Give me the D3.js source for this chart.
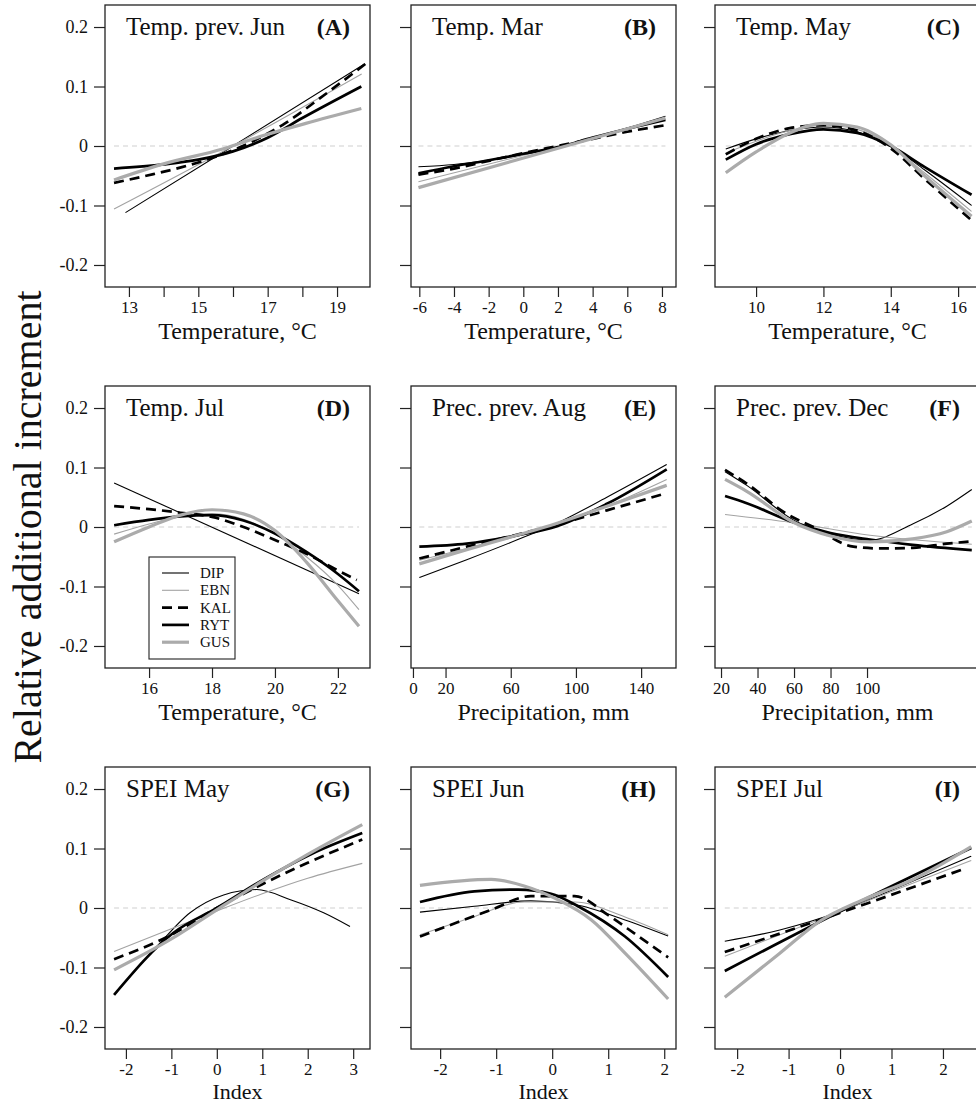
<!DOCTYPE html>
<html><head><meta charset="utf-8">
<script src="https://cdn.jsdelivr.net/npm/d3@7"></script>
<style>
body{margin:0;background:#fff}
svg{display:block}
text{font-family:"Liberation Serif","Times New Roman",Times,serif;fill:#111}
</style>
</head><body>
<svg id="c" width="976" height="1104"></svg>
<script>
// ---------------- data ----------------
const seriesNames = ["DIP", "EBN", "KAL", "RYT", "GUS"];
const panelTitles = ["Temp. prev. Jun", "Temp. Mar", "Temp. May", "Temp. Jul", "Prec. prev. Aug", "Prec. prev. Dec", "SPEI May", "SPEI Jun", "SPEI Jul"];
const panelLetters = ["(A)", "(B)", "(C)", "(D)", "(E)", "(F)", "(G)", "(H)", "(I)"];
const xTitles = ["Temperature, °C", "Temperature, °C", "Temperature, °C", "Temperature, °C", "Precipitation, mm", "Precipitation, mm", "Index", "Index", "Index"];
const xDomains = [[12.31, 19.95], [-6.48, 8.81], [8.78, 16.65], [14.6, 23.02], [-1.2, 161.4], [16.7, 161.9], [-2.46, 3.37], [-2.52, 2.21], [-2.43, 2.72]];
const xTickValues = [[13, 14, 15, 16, 17, 18, 19], [-6, -4, -2, 0, 2, 4, 6, 8], [10, 12, 14, 16], [16, 18, 20, 22], [0, 20, 60, 100, 140], [20, 40, 60, 80, 100], [-2, -1, 0, 1, 2, 3], [-2, -1, 0, 1, 2], [-2, -1, 0, 1, 2]];
const xTickLabels = [[13, 15, 17, 19], [-6, -4, -2, 0, 2, 4, 6, 8], [10, 12, 14, 16], [16, 18, 20, 22], [0, 20, 60, 100, 140], [20, 40, 60, 80, 100], [-2, -1, 0, 1, 2, 3], [-2, -1, 0, 1, 2], [-2, -1, 0, 1, 2]];
const yTickValues = [-0.2, -0.1, 0, 0.1, 0.2];
const yDomain = [-0.237, 0.237];

// series order: DIP, EBN, KAL, RYT, GUS ; points are [x, relative additional increment]
const panelA = [
  [[12.9, -0.112], [16, 0.0], [19.8, 0.138]],
  [[12.57, -0.106], [16, 0.0], [19.71, 0.121]],
  [[12.57, -0.062], [13.5, -0.05], [14.5, -0.036], [15.5, -0.018], [16.5, 0.006], [17.5, 0.038], [18.5, 0.08], [19.84, 0.139]],
  [[12.57, -0.038], [14, -0.031], [15, -0.023], [16, -0.009], [17, 0.014], [18, 0.047], [19.7, 0.1]],
  [[12.57, -0.057], [14, -0.03], [15.7, -0.005], [16.9, 0.018], [18.1, 0.038], [19.7, 0.063]]
];
const panelB = [
  [[-6.05, -0.035], [-4, -0.031], [-2, -0.024], [0, -0.014], [2, -0.003], [4, 0.013], [6, 0.03], [8.2, 0.05]],
  [[-6.05, -0.06], [8.2, 0.044]],
  [[-6.05, -0.048], [-4, -0.038], [-2, -0.025], [0, -0.012], [2, 0.0], [4, 0.012], [6, 0.024], [8.2, 0.035]],
  [[-6.05, -0.046], [-4, -0.034], [-2, -0.024], [0, -0.013], [2, -0.002], [4, 0.014], [6, 0.029], [8.2, 0.044]],
  [[-6.05, -0.07], [8.2, 0.047]]
];
const panelC = [
  [[9.1, -0.005], [10, 0.012], [11, 0.026], [12, 0.032], [13, 0.024], [14, 0.0], [15, -0.04], [16.4, -0.1]],
  [[9.1, -0.012], [10, 0.008], [11, 0.026], [12, 0.035], [13, 0.028], [14, 0.0], [15, -0.045], [16.4, -0.11]],
  [[9.1, -0.014], [10, 0.012], [11, 0.03], [12, 0.035], [13, 0.026], [14, -0.004], [15, -0.055], [16.4, -0.125]],
  [[9.1, -0.023], [10, 0.003], [11, 0.02], [12, 0.028], [13, 0.022], [14, 0.0], [15, -0.035], [16.4, -0.082]],
  [[9.1, -0.045], [10, -0.01], [11, 0.022], [12, 0.038], [13, 0.032], [14, 0.002], [15, -0.05], [16.4, -0.118]]
];
const panelD = [
  [[14.89, 0.074], [22.67, -0.112]],
  [[14.89, -0.012], [16, 0.005], [17, 0.018], [18, 0.022], [19, 0.013], [20, -0.012], [21, -0.05], [22, -0.098], [22.67, -0.139]],
  [[14.89, 0.035], [16, 0.03], [17, 0.024], [18, 0.017], [19, 0.0], [20, -0.022], [21, -0.045], [22, -0.073], [22.6, -0.089]],
  [[14.89, 0.003], [16, 0.012], [17, 0.018], [18, 0.02], [19, 0.011], [20, -0.011], [21, -0.042], [22, -0.079], [22.67, -0.108]],
  [[14.89, -0.025], [16, 0.0], [17, 0.02], [18, 0.029], [19, 0.022], [20, -0.006], [21, -0.059], [22, -0.124], [22.67, -0.167]]
];
const panelE = [
  [[3.9, -0.085], [33, -0.055], [63.6, -0.022], [88, 0.006], [119, 0.05], [155.7, 0.105]],
  [[3.9, -0.056], [33, -0.036], [63.6, -0.016], [88, 0.004], [119, 0.035], [155.7, 0.08]],
  [[3.9, -0.053], [33, -0.033], [63.6, -0.013], [88, 0.004], [119, 0.028], [155.7, 0.057]],
  [[3.9, -0.033], [33, -0.028], [63.6, -0.014], [88, 0.001], [119, 0.039], [155.7, 0.097]],
  [[3.9, -0.062], [33, -0.038], [63.6, -0.014], [88, 0.006], [119, 0.035], [155.7, 0.07]]
];
const panelF = [
  [[22.2, 0.093], [34.1, 0.07], [59.6, 0.012], [80, -0.012], [101.6, -0.022], [125, 0.005], [143.7, 0.035], [157.4, 0.063]],
  [[22.2, 0.021], [59.6, 0.007], [101.6, -0.014], [157.4, -0.029]],
  [[22.2, 0.096], [34.1, 0.073], [56, 0.022], [70.6, 0.0], [92.5, -0.033], [107, -0.036], [125, -0.035], [143.7, -0.028], [157.4, -0.024]],
  [[22.2, 0.052], [34.1, 0.04], [59.6, 0.008], [80, -0.01], [101.6, -0.021], [125, -0.03], [157.4, -0.039]],
  [[22.2, 0.08], [34.1, 0.06], [59.6, 0.008], [80, -0.015], [101.6, -0.025], [125, -0.02], [143.7, -0.008], [157.4, 0.01]]
];
const panelG = [
  [[-2.26, -0.146], [-1.32, -0.065], [-0.59, -0.008], [0.15, 0.022], [0.88, 0.031], [1.62, 0.014], [2.35, -0.008], [2.93, -0.031]],
  [[-2.26, -0.073], [-1, -0.035], [0, -0.005], [1, 0.024], [2, 0.05], [3.2, 0.075]],
  [[-2.26, -0.086], [-1, -0.045], [0, 0.0], [1, 0.04], [2, 0.076], [3.2, 0.115]],
  [[-2.26, -0.146], [-0.96, -0.042], [0, 0.0], [1.03, 0.048], [2.06, 0.09], [3.2, 0.126]],
  [[-2.26, -0.104], [-1, -0.052], [0, -0.003], [1, 0.045], [2, 0.09], [3.2, 0.14]]
];
const panelH = [
  [[-2.36, -0.007], [-1.39, 0.003], [-0.38, 0.012], [0.4, 0.006], [1.3, -0.02], [2.07, -0.047]],
  [[-2.36, -0.045], [-1.5, -0.018], [-0.5, 0.01], [0.4, 0.01], [1.3, -0.015], [2.07, -0.045]],
  [[-2.36, -0.048], [-1.69, -0.024], [-1.09, -0.003], [-0.38, 0.02], [0.4, 0.02], [1.0, -0.012], [1.5, -0.045], [2.07, -0.083]],
  [[-2.36, 0.01], [-1.39, 0.028], [-0.61, 0.031], [-0.02, 0.024], [0.46, 0.003], [1.3, -0.048], [2.07, -0.116]],
  [[-2.36, 0.038], [-1.09, 0.048], [-0.5, 0.037], [0.1, 0.014], [0.7, -0.02], [1.3, -0.076], [2.07, -0.153]]
];
const panelI = [
  [[-2.24, -0.056], [-1.17, -0.037], [0, -0.006], [1, 0.03], [2.55, 0.087]],
  [[-2.24, -0.081], [0, -0.006], [2.55, 0.08]],
  [[-2.24, -0.074], [-0.39, -0.02], [0.6, 0.01], [2.45, 0.067]],
  [[-2.24, -0.106], [0, -0.006], [2.55, 0.101]],
  [[-2.24, -0.15], [-1.17, -0.076], [-0.39, -0.022], [0.45, 0.014], [1.42, 0.048], [2.55, 0.103]]
];
const panelData = [panelA, panelB, panelC, panelD, panelE, panelF, panelG, panelH, panelI];

// ---------------- styles / layout ----------------
const seriesStyle = {
  DIP: {stroke: "#000", width: 1.1, dash: null},
  EBN: {stroke: "#a3a3a3", width: 1.1, dash: null},
  KAL: {stroke: "#000", width: 2.7, dash: "10,6"},
  RYT: {stroke: "#000", width: 2.7, dash: null},
  GUS: {stroke: "#ababab", width: 3.2, dash: null}
};
const colLeft = [105, 411, 715];
const rowTop = [5, 386, 767];
const PW = 265, PH = 282;

const svg = d3.select("#c");
const fmtY = d => d === 0 ? "0" : (d < 0 ? "-" : "") + Math.abs(d).toFixed(1);
const fmtX = d => (d < 0 ? "-" : "") + Math.abs(d);
const FONT = '"Liberation Serif","Times New Roman",serif';

panelData.forEach((series, i) => {
  const col = i % 3, row = Math.floor(i / 3);
  const last = row === 2;
  const g = svg.append("g").attr("transform", `translate(${colLeft[col]},${rowTop[row]})`);
  const x = d3.scaleLinear().domain(xDomains[i]).range([0, PW]);
  const y = d3.scaleLinear().domain(yDomain).range([PH, 0]);

  // zero reference line over data range
  const allX = series.flat().map(p => p[0]);
  g.append("line")
    .attr("x1", x(d3.min(allX))).attr("x2", x(d3.max(allX)))
    .attr("y1", y(0)).attr("y2", y(0))
    .attr("stroke", "#cfcfcf").attr("stroke-width", 1).attr("stroke-dasharray", "5,4");

  const line = d3.line().x(p => x(p[0])).y(p => y(p[1])).curve(d3.curveMonotoneX);
  series.forEach((pts, k) => {
    const st = seriesStyle[seriesNames[k]];
    g.append("path").datum(pts)
      .attr("d", line)
      .attr("fill", "none")
      .attr("stroke", st.stroke)
      .attr("stroke-width", st.width)
      .attr("stroke-dasharray", st.dash)
      .attr("stroke-linecap", "butt");
  });

  // axes
  const ya = d3.axisLeft(y).tickValues(yTickValues).tickSize(11).tickPadding(6)
    .tickFormat(col === 0 ? fmtY : () => "");
  const yg = g.append("g").call(ya);
  yg.select(".domain").remove();
  yg.selectAll(".tick line").attr("stroke", "#222").attr("stroke-width", 1.2);
  yg.selectAll("text").attr("font-size", 18).attr("fill", "#111").attr("font-family", FONT);

  const labs = xTickLabels[i];
  const xa = d3.axisBottom(x).tickValues(xTickValues[i]).tickSize(10).tickPadding(4)
    .tickFormat(d => labs.includes(d) ? fmtX(d) : "");
  const xg = g.append("g").attr("transform", `translate(0,${PH})`).call(xa);
  xg.select(".domain").remove();
  xg.selectAll(".tick line").attr("stroke", "#222").attr("stroke-width", 1.2);
  xg.selectAll("text").attr("font-size", 17).attr("fill", "#111").attr("font-family", FONT);

  // border
  g.append("rect").attr("x", 0).attr("y", 0).attr("width", PW).attr("height", PH)
    .attr("fill", "none").attr("stroke", "#222").attr("stroke-width", 1.3);

  // titles
  g.append("text").attr("x", 21).attr("y", 30).attr("font-size", 25).text(panelTitles[i]);
  g.append("text").attr("x", PW - 20).attr("y", 30).attr("font-size", 24)
    .attr("font-weight", "bold").attr("text-anchor", "end").text(panelLetters[i]);
  g.append("text").attr("x", PW / 2).attr("y", PH + (last ? 50 : 52)).attr("font-size", last ? 22 : 24)
    .attr("text-anchor", "middle").text(xTitles[i]);

  // legend in panel D
  if (i === 3) {
    const lg = g.append("g");
    lg.append("rect").attr("x", 44).attr("y", 171).attr("width", 86).attr("height", 102)
      .attr("fill", "#fff").attr("stroke", "#222").attr("stroke-width", 1.1);
    seriesNames.forEach((nm, k) => {
      const st = seriesStyle[nm];
      const yy = 187 + k * 17.3;
      lg.append("line").attr("x1", 57).attr("x2", 84).attr("y1", yy).attr("y2", yy)
        .attr("stroke", st.stroke).attr("stroke-width", st.width).attr("stroke-dasharray", st.dash);
      lg.append("text").attr("x", 95).attr("y", yy + 5).attr("font-size", 15).text(nm);
    });
  }
});

// shared y label
svg.append("text")
  .attr("transform", "translate(41,527) rotate(-90)")
  .attr("text-anchor", "middle").attr("font-size", 40)
  .text("Relative additional increment");
</script>
</body></html>
